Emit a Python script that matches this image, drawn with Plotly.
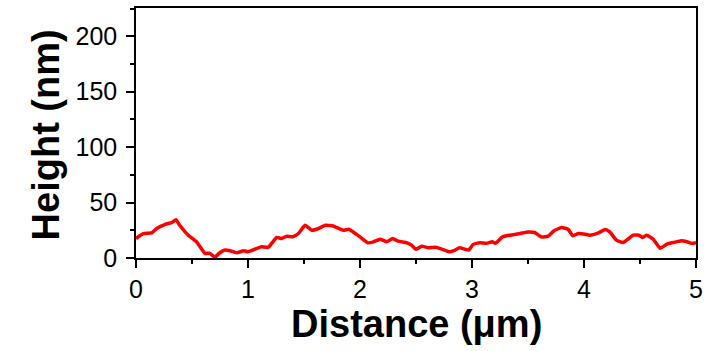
import plotly.graph_objects as go

# Height profile along the scan line
distance_um = [0.0, 0.065, 0.14, 0.185, 0.26, 0.32, 0.357, 0.39, 0.467, 0.54, 0.616, 0.66,
               0.705, 0.735, 0.795, 0.84, 0.9, 0.96, 1.0, 1.08, 1.12, 1.18, 1.256, 1.3,
               1.345, 1.4, 1.45, 1.51, 1.57, 1.63, 1.69, 1.76, 1.85, 1.9, 1.94, 2.0,
               2.07, 2.12, 2.18, 2.24, 2.29, 2.34, 2.42, 2.46, 2.5, 2.55, 2.61, 2.67,
               2.71, 2.8, 2.85, 2.89, 2.97, 3.01, 3.07, 3.13, 3.18, 3.21, 3.27, 3.34,
               3.43, 3.5, 3.56, 3.62, 3.68, 3.73, 3.8, 3.86, 3.9, 3.95, 4.01, 4.05,
               4.13, 4.19, 4.23, 4.29, 4.35, 4.4, 4.44, 4.49, 4.52, 4.56, 4.62, 4.68,
               4.74, 4.8, 4.87, 4.92, 4.96, 5.0]
height_nm = [17.6, 22.0, 22.7, 26.6, 30.4, 32.0, 34.6, 29.5, 20.6, 14.6, 4.2, 4.2,
             0.6, 3.6, 7.2, 6.5, 4.7, 6.5, 5.6, 8.7, 10.1, 9.6, 18.5, 17.6,
             19.7, 19.1, 22.1, 29.5, 25.0, 26.6, 29.5, 28.9, 25.0, 26.0, 23.5, 19.0,
             13.7, 14.6, 17.0, 14.6, 17.6, 15.2, 13.7, 11.6, 7.8, 10.7, 9.2, 9.6,
             8.7, 5.6, 7.2, 9.2, 7.2, 12.3, 13.7, 13.2, 14.6, 13.2, 19.0, 20.6,
             22.1, 23.5, 23.0, 19.0, 19.7, 24.4, 27.5, 25.7, 20.0, 22.1, 21.5, 20.6,
             22.7, 25.7, 23.5, 16.1, 14.0, 17.6, 20.6, 20.6, 18.5, 20.6, 16.7, 8.7,
             12.5, 14.0, 15.5, 14.6, 13.2, 13.7]

x_ticks = [0, 1, 2, 3, 4, 5]
y_ticks = [0, 50, 100, 150, 200]

FONT = "Arial, Liberation Sans, sans-serif"

fig = go.Figure()
fig.add_trace(go.Scatter(
    x=distance_um, y=height_nm, mode="lines",
    line=dict(color="#ff0000", width=3.5, shape="spline", smoothing=0.4),
    showlegend=False,
))

axis_common = dict(
    showline=True, linecolor="black", linewidth=1.5, mirror=True,
    showgrid=False, zeroline=False,
    ticks="outside", ticklen=8, tickwidth=1.5, tickcolor="black",
    tickfont=dict(family=FONT, size=25, color="black"),
)

fig.update_layout(
    width=717, height=351,
    margin=dict(l=136, r=21, t=6, b=93),
    paper_bgcolor="white", plot_bgcolor="white",
    xaxis=dict(range=[0, 5], tickvals=x_ticks, ticktext=[str(v) for v in x_ticks],
               minor=dict(ticks="outside", ticklen=4, tickwidth=1.5, tickcolor="black", dtick=0.5),
               **axis_common),
    yaxis=dict(range=[0, 225.5], tickvals=y_ticks, ticktext=[str(v) for v in y_ticks],
               ticklabelstandoff=4,
               minor=dict(ticks="outside", ticklen=4, tickwidth=1.5, tickcolor="black",
                          tickvals=[25, 75, 125, 175, 225]),
               **axis_common),
    annotations=[
        dict(text="<b>Distance (μm)</b>", xref="paper", yref="paper", x=0.5, y=-0.262,
             xanchor="center", yanchor="middle", showarrow=False,
             font=dict(family=FONT, size=38, color="black")),
        dict(text="<b>Height (nm)</b>", xref="paper", yref="paper", x=-0.16, y=0.492,
             xanchor="center", yanchor="middle", showarrow=False, textangle=-90,
             font=dict(family=FONT, size=38, color="black")),
    ],
)

fig.write_html("out.html")
